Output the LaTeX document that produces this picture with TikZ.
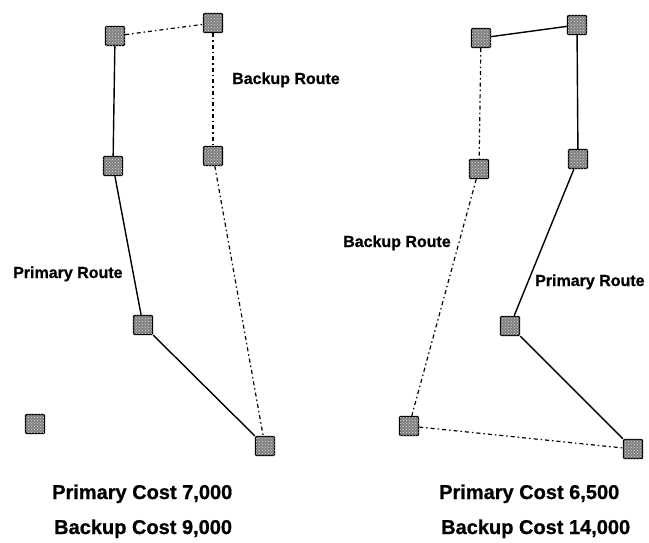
\documentclass[tikz,border=0pt]{standalone}
\usepackage{fontspec}
\newfontfamily\lblfont[FakeBold=0.8]{Liberation Sans}
\usetikzlibrary{patterns}
\begin{document}
\begin{tikzpicture}[x=1pt,y=-1pt,
  site/.style={draw=black,line width=1.4pt,fill=black!50,minimum size=19pt,inner sep=0pt,rounded corners=1pt,
    postaction={pattern=crosshatch dots,pattern color=white!85!black}},
  primary/.style={line width=1.4pt},
  backup/.style={line width=1.2pt,dash pattern=on 4pt off 3pt on 1.5pt off 3pt},
  routelbl/.style={font=\lblfont\bfseries\fontsize{16}{18}\selectfont,inner sep=0pt,anchor=base west},
  costlbl/.style={font=\lblfont\bfseries\fontsize{20}{22}\selectfont,inner sep=0pt,anchor=base west}]
\useasboundingbox (0,0) rectangle (649,542);

% left network
\node[site] (a1) at (115,36) {};
\node[site] (a2) at (213,23) {};
\node[site] (a3) at (113,166) {};
\node[site] (a4) at (213,156) {};
\node[site] (a5) at (143,325) {};
\node[site] (a6) at (35,424) {};
\node[site] (a7) at (265,446) {};
\draw[primary] (a1) -- (a3);
\draw[primary] (a3) -- (a5);
\draw[primary] (a5) -- (a7);
\draw[backup] (a1) -- (a2);
\draw[backup] (a2) -- (a4);
\draw[backup] (a4) -- (a7);
\node[routelbl] (la) at (232,84) {Backup Route};
\node[routelbl] (lb) at (13,278) {Primary Route};
\node[costlbl] (lc) at (52,499) {Primary Cost 7,000};
\node[costlbl] (ld) at (54,534) {Backup Cost 9,000};

% right network
\node[site] (b1) at (481,38) {};
\node[site] (b2) at (577,25) {};
\node[site] (b3) at (479,169) {};
\node[site] (b4) at (578,159) {};
\node[site] (b5) at (510,326) {};
\node[site] (b6) at (409,426) {};
\node[site] (b7) at (633,449) {};
\draw[primary] (b1) -- (b2);
\draw[primary] (b2) -- (b4);
\draw[primary] (b4) -- (b5);
\draw[primary] (b5) -- (b7);
\draw[backup] (b1) -- (b3);
\draw[backup] (b3) -- (b6);
\draw[backup] (b6) -- (b7);
\node[routelbl] (ra) at (343,247) {Backup Route};
\node[routelbl] (rb) at (535,286) {Primary Route};
\node[costlbl] (rc) at (439,499) {Primary Cost 6,500};
\node[costlbl] (rd) at (441,534) {Backup Cost 14,000};
\end{tikzpicture}
\end{document}
